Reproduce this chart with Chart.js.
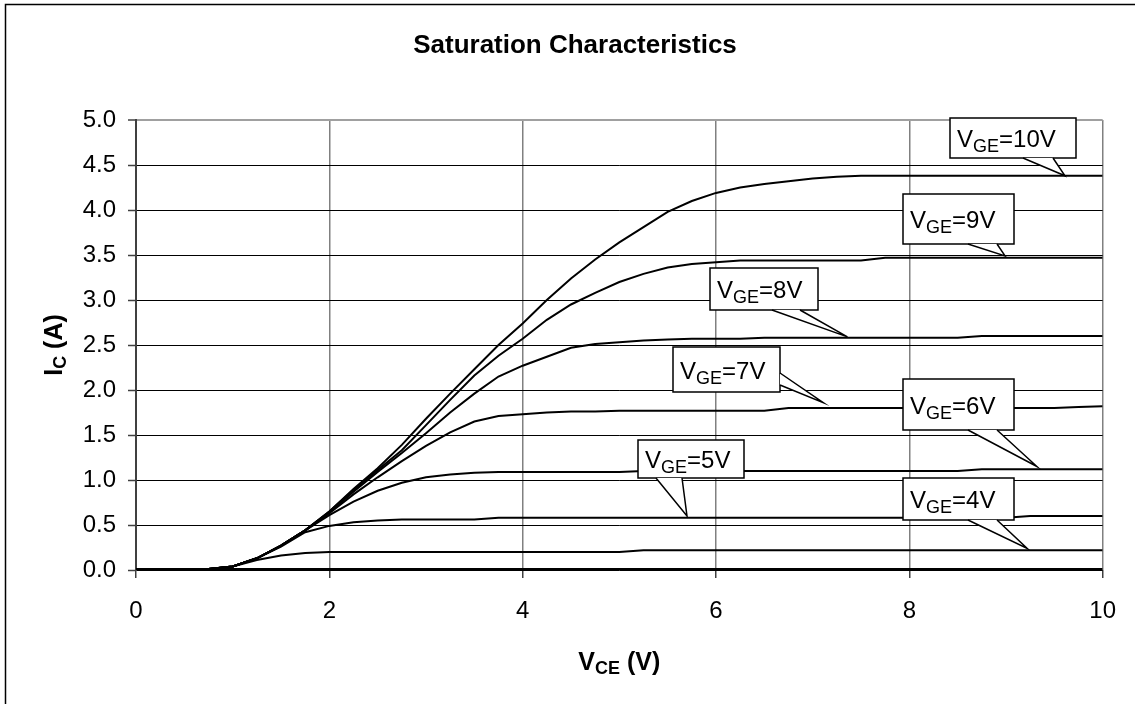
<!DOCTYPE html>
<html>
<head>
<meta charset="utf-8">
<script src="https://cdn.jsdelivr.net/npm/chart.js@4/dist/chart.umd.min.js"></script>
<style>
  html, body { margin: 0; padding: 0; background: #fff; }
  #wrap { position: relative; width: 1135px; height: 704px; }
</style>
</head>
<body>
<div id="wrap"><canvas id="sat" width="1135" height="704"></canvas></div>
<script>
// V_CE sample points (V)
const vce = [0, 0.25, 0.5, 0.75, 1, 1.25, 1.5, 1.75, 2, 2.25, 2.5, 2.75, 3, 3.25, 3.5, 3.75,
    4, 4.25, 4.5, 4.75, 5, 5.25, 5.5, 5.75, 6, 6.25, 6.5, 6.75, 7, 7.25, 7.5, 7.75,
    8, 8.25, 8.5, 8.75, 9, 9.25, 9.5, 9.75, 10];

// I_C (A) per gate voltage
const ic3V = [0, 0, 0, 0, 0, 0, 0, 0, 0, 0, 0, 0, 0, 0, 0, 0, 0, 0, 0, 0, 0,
    0, 0, 0, 0, 0, 0, 0, 0, 0, 0, 0, 0, 0, 0, 0, 0, 0, 0, 0, 0];
const ic4V = [0, 0, 0, 0.01, 0.04, 0.11, 0.16, 0.19, 0.20, 0.20, 0.20, 0.20, 0.20, 0.20, 0.20, 0.20,
    0.20, 0.20, 0.20, 0.20, 0.20, 0.22, 0.22, 0.22, 0.22, 0.22, 0.22, 0.22, 0.22, 0.22, 0.22, 0.22,
    0.22, 0.22, 0.22, 0.22, 0.22, 0.22, 0.22, 0.22, 0.22];
const ic5V = [0, 0, 0, 0.01, 0.04, 0.13, 0.26, 0.42, 0.49, 0.53, 0.55, 0.56, 0.56, 0.56, 0.56, 0.58,
    0.58, 0.58, 0.58, 0.58, 0.58, 0.58, 0.58, 0.58, 0.58, 0.58, 0.58, 0.58, 0.58, 0.58, 0.58, 0.58,
    0.58, 0.58, 0.58, 0.58, 0.58, 0.60, 0.60, 0.60, 0.60];
const ic6V = [0, 0, 0, 0.01, 0.04, 0.13, 0.27, 0.44, 0.61, 0.76, 0.88, 0.97, 1.03, 1.06, 1.08, 1.09,
    1.09, 1.09, 1.09, 1.09, 1.09, 1.10, 1.10, 1.10, 1.10, 1.10, 1.10, 1.10, 1.10, 1.10, 1.10, 1.10,
    1.10, 1.10, 1.10, 1.12, 1.12, 1.12, 1.12, 1.12, 1.12];
const ic7V = [0, 0, 0, 0.01, 0.04, 0.13, 0.27, 0.44, 0.63, 0.84, 1.03, 1.21, 1.38, 1.53, 1.65, 1.71,
    1.73, 1.75, 1.76, 1.76, 1.77, 1.77, 1.77, 1.77, 1.77, 1.77, 1.77, 1.80, 1.80, 1.80, 1.80, 1.80,
    1.80, 1.80, 1.80, 1.80, 1.80, 1.80, 1.80, 1.81, 1.82];
const ic8V = [0, 0, 0, 0.01, 0.04, 0.13, 0.27, 0.44, 0.64, 0.87, 1.09, 1.30, 1.52, 1.75, 1.96, 2.15,
    2.27, 2.37, 2.47, 2.51, 2.53, 2.55, 2.56, 2.57, 2.57, 2.57, 2.58, 2.58, 2.58, 2.58, 2.58, 2.58,
    2.58, 2.58, 2.58, 2.60, 2.60, 2.60, 2.60, 2.60, 2.60];
const ic9V = [0, 0, 0, 0.01, 0.04, 0.13, 0.27, 0.44, 0.65, 0.89, 1.11, 1.33, 1.61, 1.89, 2.16, 2.38,
    2.57, 2.78, 2.95, 3.08, 3.20, 3.29, 3.36, 3.40, 3.42, 3.44, 3.44, 3.44, 3.44, 3.44, 3.44, 3.47,
    3.47, 3.47, 3.47, 3.47, 3.47, 3.47, 3.47, 3.47, 3.47];
const ic10V = [0, 0, 0, 0.01, 0.04, 0.13, 0.27, 0.44, 0.65, 0.90, 1.13, 1.39, 1.68, 1.96, 2.23, 2.50,
    2.74, 3.00, 3.24, 3.45, 3.64, 3.81, 3.98, 4.10, 4.19, 4.25, 4.29, 4.32, 4.35, 4.37, 4.38, 4.38,
    4.38, 4.38, 4.38, 4.38, 4.38, 4.38, 4.38, 4.38, 4.38];

const gateLabels = ['10V', '9V', '8V', '7V', '6V', '5V', '4V'];
const xTicks = [0, 2, 4, 6, 8, 10];
const yTicks = [0, 0.5, 1, 1.5, 2, 2.5, 3, 3.5, 4, 4.5, 5];

const FONT = '"Liberation Sans", Arial, sans-serif';

// callout boxes in canvas px, tip given in data units
const callouts = [
    { box: [950, 118, 126, 40], base: [[1023, 158], [1053, 158]], tip: [9.61, 4.38] },
    { box: [903, 194, 111, 50], base: [[968, 244], [997, 244]], tip: [8.99, 3.49] },
    { box: [710, 268, 108, 42], base: [[772, 310], [800, 310]], tip: [7.36, 2.59] },
    { box: [673, 347, 107, 45], base: [[780, 373], [780, 385]], tip: [7.11, 1.86] },
    { box: [903, 379, 111, 51], base: [[968, 430], [997, 430]], tip: [9.32, 1.15] },
    { box: [638, 440, 106, 38], base: [[656, 478], [682, 478]], tip: [5.70, 0.60] },
    { box: [903, 478, 111, 42], base: [[968, 520], [997, 520]], tip: [9.22, 0.24] }
];

function drawParts(ctx, parts, x, y, align) {
    // parts: [text, size, bold, dy]
    let w = 0;
    parts.forEach(p => {
        ctx.font = `${p[2] ? 'bold ' : ''}${p[1]}px ${FONT}`;
        w += ctx.measureText(p[0]).width;
    });
    let cx = align === 'center' ? x - w / 2 : x;
    ctx.textAlign = 'left';
    ctx.textBaseline = 'alphabetic';
    parts.forEach(p => {
        ctx.font = `${p[2] ? 'bold ' : ''}${p[1]}px ${FONT}`;
        ctx.fillText(p[0], cx, y + (p[3] || 0));
        cx += ctx.measureText(p[0]).width;
    });
}

const decor = {
    id: 'decor',
    beforeDraw(chart) {
        const ctx = chart.ctx;
        ctx.save();
        ctx.fillStyle = '#fff';
        ctx.fillRect(0, 0, chart.width, chart.height);
        ctx.strokeStyle = '#000';
        ctx.lineWidth = 1.5;
        ctx.beginPath();
        ctx.moveTo(5.5, chart.height);
        ctx.lineTo(5.5, 4.5);
        ctx.lineTo(chart.width, 4.5);
        ctx.stroke();
        ctx.restore();
    },
    afterDraw(chart) {
        const ctx = chart.ctx;
        const xs = chart.scales.x, ys = chart.scales.y;
        const area = chart.chartArea;
        ctx.save();
        ctx.fillStyle = '#000';

        drawParts(ctx, [['Saturation Characteristics', 26, true]], 575, 53, 'center');
        drawParts(ctx, [['V', 25, true], ['CE', 18, true, 4], [' (V)', 25, true]],
            (area.left + area.right) / 2, 670, 'center');

        ctx.save();
        ctx.translate(62, (area.top + area.bottom) / 2);
        ctx.rotate(-Math.PI / 2);
        drawParts(ctx, [['I', 25, true], ['C', 18, true, 4], [' (A)', 25, true]], 0, 0, 'center');
        ctx.restore();

        callouts.forEach((c, i) => {
            const [bx, by, bw, bh] = c.box;
            const tx = xs.getPixelForValue(c.tip[0]);
            const ty = ys.getPixelForValue(c.tip[1]);
            ctx.fillStyle = '#fff';
            ctx.strokeStyle = '#000';
            ctx.lineWidth = 1.5;
            ctx.beginPath();
            ctx.rect(bx, by, bw, bh);
            ctx.fill();
            ctx.stroke();
            // pointer wedge
            ctx.beginPath();
            ctx.moveTo(c.base[0][0], c.base[0][1]);
            ctx.lineTo(tx, ty);
            ctx.lineTo(c.base[1][0], c.base[1][1]);
            ctx.closePath();
            ctx.fill();
            ctx.beginPath();
            ctx.moveTo(c.base[0][0], c.base[0][1]);
            ctx.lineTo(tx, ty);
            ctx.lineTo(c.base[1][0], c.base[1][1]);
            ctx.stroke();
            ctx.fillStyle = '#000';
            drawParts(ctx, [['V', 24, false], ['GE', 18, false, 5], ['=' + gateLabels[i], 24, false]],
                bx + 7, by + bh / 2 + 9, 'left');
        });
        ctx.restore();
    }
};

const series = [ic3V, ic4V, ic5V, ic6V, ic7V, ic8V, ic9V, ic10V];
const datasets = series.map((vals, k) => ({
    label: k === 0 ? 'VGE=3V' : 'VGE=' + (k + 3) + 'V',
    data: vce.map((v, i) => ({ x: v, y: vals[i] })),
    borderColor: '#000',
    borderWidth: k === 0 ? 4 : 2,
    pointRadius: 0,
    tension: 0,
    fill: false
}));

new Chart(document.getElementById('sat'), {
    type: 'line',
    data: { datasets },
    plugins: [decor],
    options: {
        responsive: false,
        animation: false,
        devicePixelRatio: 1,
        layout: { padding: { left: 0, top: 120, right: 31, bottom: 0 } },
        plugins: {
            legend: { display: false },
            tooltip: { enabled: false },
            title: { display: false }
        },
        scales: {
            x: {
                type: 'linear',
                min: 0,
                max: 10,
                afterFit: s => { s.height = 134; },
                afterBuildTicks: s => { s.ticks = xTicks.map(v => ({ value: v })); },
                ticks: { color: '#000', font: { family: FONT, size: 24 }, padding: 19, maxRotation: 0 },
                grid: { color: '#808080', lineWidth: 1.5, tickLength: 8, tickColor: '#404040', tickWidth: 1.5 },
                border: { display: false }
            },
            y: {
                min: 0,
                max: 5,
                afterFit: s => { s.width = 136; },
                afterBuildTicks: s => { s.ticks = yTicks.map(v => ({ value: v })); },
                ticks: {
                    color: '#000', font: { family: FONT, size: 24 }, padding: 12,
                    callback: v => v.toFixed(1)
                },
                grid: {
                    color: c => c.tick && c.tick.value === 5 ? '#a0a0a0' : '#000',
                    lineWidth: c => c.tick && c.tick.value === 5 ? 2 : 1,
                    tickLength: 8, tickColor: '#404040', tickWidth: 1.5
                },
                border: { color: '#404040', width: 2 }
            }
        }
    }
});
</script>
</body>
</html>
